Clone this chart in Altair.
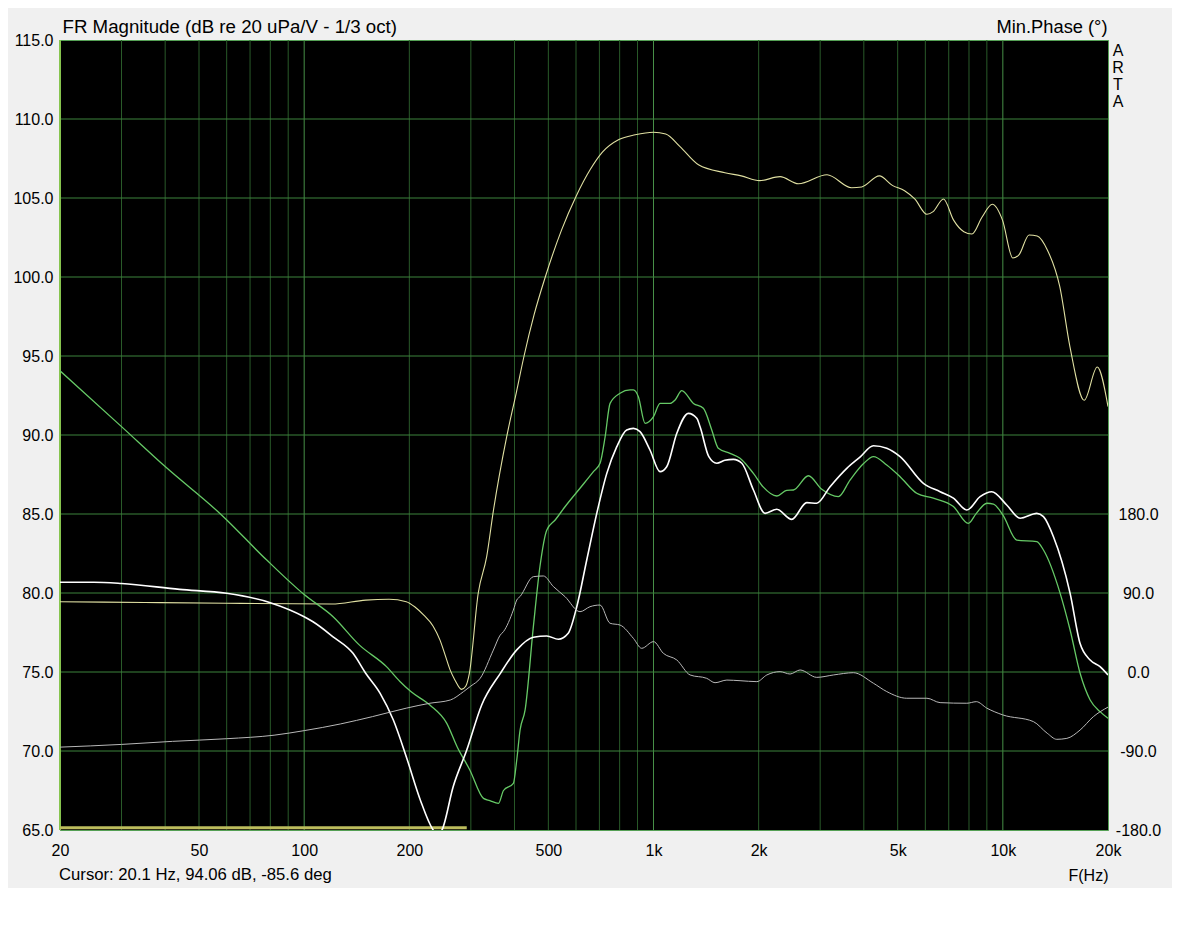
import altair as alt
import pandas as pd

# ---- data (Hz / dB / degrees) ----
yellow_f = [20, 35, 60, 120, 150, 175, 196, 208, 220, 234, 245, 253, 262, 270, 282, 290, 297, 315, 333, 348,
            380, 405, 426, 455, 490, 546, 600, 659, 714, 796, 886, 1000, 1084, 1191, 1345, 1601, 1783, 2014, 2303, 2600,
            3138, 3690, 3945, 4430, 4826, 5233, 5595, 6063, 6316, 6762, 7228, 7732, 8156, 8723, 9330, 9977, 10680, 11120,
            11890, 12540, 13420, 14550, 15560, 17100, 18630, 20000]
yellow_db = [79.45, 79.4, 79.35, 79.3, 79.55, 79.6, 79.45, 79.1, 78.6, 77.9, 77.0, 76.1, 75.1, 74.5, 73.9, 74.1, 74.9, 80.0, 82.3, 85.2,
             89.9, 92.7, 95.0, 97.6, 100.0, 103.0, 105.1, 106.8, 107.9, 108.7, 109.0, 109.16, 109.05, 108.25, 107.1, 106.6, 106.4, 106.1, 106.35, 105.9,
             106.47, 105.65, 105.7, 106.4, 105.8, 105.46, 104.94, 103.97, 104.14, 104.94, 103.6, 102.87, 102.72, 103.8, 104.6, 103.6, 101.2, 101.4,
             102.66, 102.6, 101.7, 99.4, 95.6, 92.2, 94.3, 91.8]

white_f = [20, 25, 30, 44, 60, 80, 100, 106, 121, 138, 150, 165, 180, 196, 215, 234, 241, 248, 267, 292,
           322, 364, 406, 453, 495, 534, 570, 603, 644, 688, 735, 785, 838, 876, 915, 977, 1044, 1091, 1166, 1258,
           1330, 1360, 1440, 1517, 1600, 1693, 1790, 1932, 2086, 2253, 2487, 2746, 2933, 3202, 3575, 3900, 4261, 4652, 5081, 5923,
           6613, 7220, 7884, 8609, 9296, 10260, 11200, 12510, 13070, 13960, 15580, 16640, 17780, 18980, 20000]
white_db = [80.68, 80.68, 80.6, 80.23, 79.98, 79.39, 78.5, 78.18, 77.23, 76.18, 74.92, 73.65, 71.96, 69.64, 66.9, 65.0, 64.7, 65.0, 67.74, 70.06,
            72.9, 74.9, 76.4, 77.2, 77.28, 77.07, 77.45, 79.13, 82.09, 85.04, 87.57, 89.26, 90.32, 90.42, 90.21, 89.05, 87.68, 87.99, 90.11, 91.37,
            91.06, 90.5, 88.63, 88.21, 88.4, 88.46, 88.21, 86.52, 85.04, 85.3, 84.66, 85.72, 85.68, 86.73, 87.89, 88.6, 89.32, 89.16, 88.63, 86.94,
            86.41, 86.0, 85.25, 86.1, 86.41, 85.57, 84.73, 85.04, 84.83, 83.56, 79.98, 76.8, 75.76, 75.34, 74.81]

green_f = [20, 30, 40, 58, 78, 100, 121, 144, 172, 188, 202, 229, 256, 274, 298, 326, 340, 360, 372, 397,
           406, 415, 429, 453, 473, 495, 523, 558, 616, 673, 703, 727, 751, 802, 857, 876, 905, 946, 1000, 1044,
           1115, 1153, 1205, 1301, 1389, 1468, 1533, 1656, 1769, 1932, 2063, 2253, 2406, 2515, 2776, 3032, 3382, 3652, 4000, 4261,
           4652, 5081, 5669, 6326, 7220, 7967, 8397, 9001, 9400, 10000, 10960, 12510, 13070, 14590, 15580, 16640, 17780, 18980, 20000]
green_db = [94.06, 90.53, 88.0, 84.94, 82.1, 79.9, 78.5, 76.7, 75.34, 74.4, 73.76, 72.91, 71.75, 70.27, 68.8, 67.0, 66.86, 66.69, 67.5, 67.95,
            69.43, 71.33, 72.6, 77.87, 81.66, 83.99, 84.62, 85.46, 86.63, 87.68, 88.21, 89.89, 92.0, 92.64, 92.85, 92.85, 92.42, 90.74, 91.16, 92.0,
            92.0, 92.22, 92.81, 92.0, 91.69, 90.32, 89.16, 88.84, 88.53, 87.57, 86.7, 86.14, 86.5, 86.52, 87.42, 86.56, 86.1, 87.15, 88.21, 88.63,
            88.1, 87.36, 86.31, 86.0, 85.47, 84.41, 85.04, 85.68, 85.63, 84.94, 83.35, 83.25, 82.72, 79.98, 77.66, 74.92, 73.23, 72.49, 72.07]

phase_f = [20, 30, 42, 60, 82, 100, 127, 157, 196, 229, 262, 286, 300, 319, 348, 364, 372, 397, 406, 415,
           453, 484, 517, 558, 616, 658, 703, 751, 802, 876, 925, 1000, 1067, 1166, 1273, 1420, 1500, 1622, 1769, 1976,
           2110, 2303, 2460, 2627, 2933, 3272, 3734, 4261, 4652, 5309, 6063, 6613, 7884, 8397, 9001, 10000, 12230, 13400, 14270, 15250,
           16640, 18160, 20000]
phase_deg = [-85.6, -82.5, -79, -76, -72, -66.8, -59.2, -50.8, -41.2, -35.6, -31.9, -22.3, -16, -7.2, 25, 42, 46, 70.6, 82, 86,
             108.6, 109.4, 97.3, 85.9, 68.7, 74.4, 76.3, 55.5, 53.5, 38.3, 27, 34.6, 21.3, 13.7, -3.4, -7.2, -12.2, -9.2, -9.9, -11,
             -3.4, 0.4, -2.3, 2.3, -6.1, -3.4, -0.8, -12.8, -22.3, -29.9, -29.9, -34.9, -35.6, -33.8, -41.2, -48.9, -56.5, -69.8, -76.7, -75.6,
             -66.1, -50.9, -40]

floor_f = [20, 292]
floor_db = [65.15, 65.15]

grid_minor_f = [30, 40, 50, 60, 70, 80, 90, 200, 300, 400, 500, 600, 700, 800, 900,
                2000, 3000, 4000, 5000, 6000, 7000, 8000, 9000]
grid_major_f = [100, 1000, 10000]
grid_edge_f = [20]
grid_db = [70, 75, 80, 85, 90, 95, 100, 105, 110]
x_label_f = [20, 50, 100, 200, 500, 1000, 2000, 5000, 10000, 20000]
db_ticks = [65, 70, 75, 80, 85, 90, 95, 100, 105, 110, 115]
phase_ticks = [-180, -90, 0, 90, 180]

FONT = "Liberation Sans"
W, H = 1048, 790

xsc = alt.Scale(type="log", domain=[20, 20000], nice=False)
ysc = alt.Scale(domain=[65, 115], nice=False, zero=False)
psc = alt.Scale(domain=[-180, 720], nice=False, zero=False)

xaxis = alt.Axis(values=x_label_f,
                 labelExpr="datum.value >= 1000 ? (datum.value / 1000) + 'k' : '' + datum.value",
                 grid=False, ticks=False, domain=False, labelFlush=False, labelOverlap=False,
                 labelPadding=12, title="F(Hz)", titleX=W, titleY=50, titleAlign="right",
                 titleBaseline="alphabetic", titleFontWeight="normal", titleFontSize=16)
yaxis = alt.Axis(values=db_ticks, format=".1f", grid=False, ticks=False, domain=False,
                 labelPadding=7, labelOverlap=False,
                 title="FR Magnitude (dB re 20 uPa/V - 1/3 oct)", titleAngle=0, titleAlign="left",
                 titleBaseline="alphabetic", titleX=2, titleY=-8, titleFontWeight="normal",
                 titleFontSize=18.7)
paxis = alt.Axis(orient="right", values=phase_ticks,
                 labelExpr="(datum.value < 0 ? '-' : '') + format(abs(datum.value), '.1f')",
                 grid=False, ticks=False, domain=False, labelPadding=30, labelAlign="center",
                 labelOverlap=False, title="Min.Phase (°)", titleAngle=0, titleAlign="right",
                 titleBaseline="alphabetic", titleX=-1, titleY=-8, titleFontWeight="normal",
                 titleFontSize=18.3)


def X():
    return alt.X("f:Q", scale=xsc, axis=xaxis)


def Y():
    return alt.Y("db:Q", scale=ysc, axis=yaxis)


def curve(fs, vals, color, width):
    df = pd.DataFrame({"f": fs, "db": vals})
    return alt.Chart(df).mark_line(color=color, strokeWidth=width, interpolate="monotone",
                                   clip=True).encode(x=X(), y=Y())


vminor = alt.Chart(pd.DataFrame({"f": grid_minor_f})).mark_rule(color="#295a29", strokeWidth=1).encode(x=X())
vmajor = alt.Chart(pd.DataFrame({"f": grid_major_f})).mark_rule(color="#478f47", strokeWidth=1).encode(x=X())
vedge = alt.Chart(pd.DataFrame({"f": grid_edge_f})).mark_rule(color="#86c44e", strokeWidth=2).encode(x=X())
hgrid = alt.Chart(pd.DataFrame({"db": grid_db})).mark_rule(color="#3c833c", strokeWidth=1).encode(y=Y())

floor = alt.Chart(pd.DataFrame({"f": floor_f, "db": floor_db})).mark_line(
    color="#bcbc5c", strokeWidth=3).encode(x=X(), y=Y())
yellow = curve(yellow_f, yellow_db, "#e0e0a2", 1.1)
green = curve(green_f, green_db, "#66c966", 1.3)
white = curve(white_f, white_db, "#ffffff", 1.6)

arta = alt.Chart(alt.Data(values=[{}])).mark_text(
    text="A\nR\nT\nA", lineBreak="\n", lineHeight=17, font=FONT, fontSize=16, color="black",
    align="center", baseline="alphabetic").encode(x=alt.value(W + 10), y=alt.value(15.5))
cursor = alt.Chart(alt.Data(values=[{}])).mark_text(
    text="Cursor: 20.1 Hz, 94.06 dB, -85.6 deg", font=FONT, fontSize=16.7, color="black",
    align="left", baseline="alphabetic").encode(x=alt.value(-1), y=alt.value(H + 50))

db_layer = alt.layer(vminor, vmajor, hgrid, vedge, floor, yellow, green, white, arta, cursor)

phase = alt.Chart(pd.DataFrame({"f": phase_f, "deg": phase_deg})).mark_line(
    color="#b8b8b8", strokeWidth=1, interpolate="monotone", clip=True).encode(
    x=X(), y=alt.Y("deg:Q", scale=psc, axis=paxis))

chart = alt.layer(db_layer, phase).resolve_scale(y="independent").properties(
    width=W, height=H,
    padding={"left": 52, "top": 32, "right": 64, "bottom": 58},
    autosize=alt.AutoSizeParams(type="none"),
    background="#f0f0f0",
).configure_view(fill="black", stroke="#55a055", strokeWidth=1).configure_axis(
    labelFont=FONT, labelFontSize=16, labelColor="black",
    titleFont=FONT, titleFontSize=16, titleColor="black",
)

chart.save("out.html", embed_options={"renderer": "svg", "actions": False})
